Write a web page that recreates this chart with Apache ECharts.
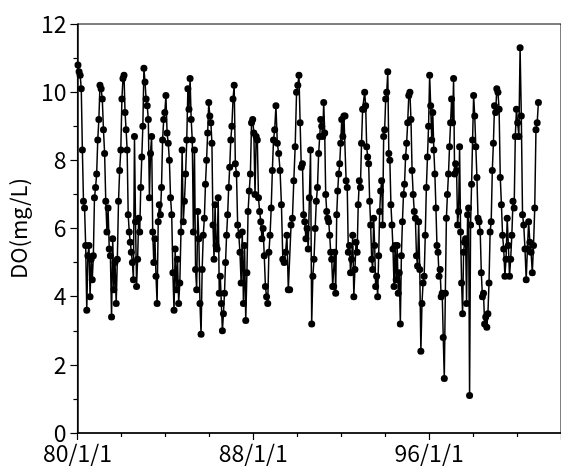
<!DOCTYPE html>
<html>
<head>
<meta charset="utf-8">
<script src="https://cdn.jsdelivr.net/npm/echarts@6/dist/echarts.min.js"></script>
<style>
  html, body { margin: 0; padding: 0; background: #fff; }
  #chart { width: 561px; height: 468px; }
</style>
</head>
<body>
<div id="chart"></div>
<script>
// DO readings per year, in sampling order through the year
const do1980 = [10.8, 10.6, 10.5, 10.1, 8.3, 6.8, 6.6, 5.5, 3.6, 5.2, 5.5, 4.0, 5.1, 4.5, 5.2, 6.9, 7.2, 7.6, 8.6, 9.2]
const do1981 = [10.2, 10.1, 9.8, 8.9, 8.2, 6.8, 5.9, 6.6, 5.4, 5.2, 3.4, 5.7, 4.2, 5.0, 3.8, 5.1, 6.8, 7.7, 8.3]
const do1982 = [9.8, 10.4, 10.5, 9.4, 8.9, 8.3, 6.4, 5.9, 5.6, 5.3, 5.0, 4.5, 8.7, 6.2, 4.3, 5.1, 6.3, 5.9, 7.2, 8.1, 9.0]
const do1983 = [10.7, 10.3, 9.8, 9.6, 9.2, 6.9, 8.2, 8.7, 5.9, 5.0, 5.7, 4.6, 3.8, 6.2, 6.7, 6.4, 7.2, 8.6, 9.2, 9.4]
const do1984 = [9.9, 8.8, 8.5, 8.0, 6.9, 6.4, 4.7, 3.6, 5.4, 4.2, 5.1, 3.8, 4.4, 5.9, 8.3, 6.2, 6.8, 7.6, 8.6]
const do1985 = [10.1, 9.5, 10.4, 9.2, 8.6, 5.9, 8.3, 4.8, 4.2, 6.5, 5.7, 3.8, 2.9, 4.8, 5.8, 6.3, 7.3, 8.0, 8.8, 9.7]
const do1986 = [9.3, 9.1, 8.5, 6.1, 5.1, 6.7, 5.5, 5.4, 6.9, 4.1, 4.6, 3.8, 3.0, 3.5, 4.1, 5.0, 5.8, 6.4, 7.2, 7.8, 8.6]
const do1987 = [9.0, 9.8, 10.2, 7.9, 7.6, 6.1, 5.8, 5.3, 4.4, 5.9, 3.8, 5.5, 3.3, 4.7, 6.5, 7.1, 7.6, 9.1, 9.2]
const do1988 = [8.8, 7.0, 8.7, 8.6, 6.9, 6.5, 6.2, 5.7, 6.0, 5.2, 4.3, 4.0, 3.8, 5.3, 5.8, 6.6, 7.7, 8.6, 8.9]
const do1989 = [9.6, 8.5, 8.2, 7.7, 6.7, 5.1, 5.0, 5.3, 5.8, 4.2, 4.2, 6.1, 6.3, 7.4, 8.4, 10.0]
const do1990 = [10.2, 10.5, 9.1, 7.8, 7.9, 6.4, 6.2, 5.7, 6.0, 5.4, 6.9, 8.3, 3.2, 4.6, 5.1, 6.0, 6.8, 7.2, 8.2]
const do1991 = [8.7, 9.2, 9.0, 8.7, 9.7, 8.8, 7.0, 6.5, 6.3, 6.2, 5.8, 5.3, 5.1, 4.3, 4.3, 5.3, 4.1, 6.4, 7.1, 7.6, 7.9, 8.5]
const do1992 = [9.2, 8.7, 9.3, 9.3, 7.4, 7.2, 5.3, 5.5, 4.7, 5.1, 5.8, 4.0, 4.8, 5.6, 5.3, 6.7, 7.4, 7.2, 8.5, 9.5]
const do1993 = [9.5, 10.0, 9.6, 8.4, 8.1, 7.9, 6.8, 6.1, 5.1, 4.8, 6.3, 5.5, 4.3, 4.6, 4.0, 5.2, 6.5, 7.1, 7.4, 6.1, 8.7, 8.9]
const do1994 = [9.8, 10.0, 10.6, 8.2, 8.0, 6.7, 6.1, 5.4, 4.3, 5.5, 4.5, 5.5, 4.1, 4.7, 3.2, 5.2, 6.2, 7.0, 7.3, 8.1, 8.5]
const do1995 = [9.1, 9.9, 10.0, 9.2, 7.7, 7.0, 6.5, 6.3, 5.2, 4.9, 6.2, 4.8, 2.4, 3.8, 4.4, 4.6, 5.8, 7.2, 8.1, 9.0]
const do1996 = [10.5, 9.6, 8.6, 9.4, 8.3, 7.6, 6.6, 5.5, 5.3, 4.6, 4.8, 4.0, 4.1, 2.8, 1.6, 4.1, 6.3, 7.0, 7.6, 8.4, 9.1]
const do1997 = [9.8, 9.1, 10.4, 7.6, 7.9, 7.7, 6.1, 6.5, 8.4, 5.9, 4.4, 3.5, 5.3, 5.6, 5.7, 3.8, 6.4, 6.6, 1.1, 6.1, 7.3, 8.6]
const do1998 = [9.9, 9.3, 8.4, 7.5, 6.3, 6.2, 5.9, 4.7, 4.0, 4.1, 3.2, 3.4, 3.1, 3.5, 4.4, 5.9, 6.2, 7.7, 8.5, 9.6]
const do1999 = [9.4, 10.1, 10.0, 9.5, 7.5, 6.7, 5.8, 5.4, 4.6, 5.1, 6.3, 5.5, 4.6, 5.1, 5.8, 6.8, 6.6, 8.7, 9.5]
const do2000 = [9.1, 8.7, 11.3, 9.3, 6.4, 6.1, 5.4, 4.5, 5.4, 6.2, 5.6, 5.3, 4.7, 5.5, 6.6, 8.9, 9.1, 9.7]

const years = [1980, 1981, 1982, 1983, 1984, 1985, 1986, 1987, 1988, 1989, 1990,
  1991, 1992, 1993, 1994, 1995, 1996, 1997, 1998, 1999, 2000]
const yearValues = [do1980, do1981, do1982, do1983, do1984, do1985, do1986, do1987, do1988, do1989, do1990,
  do1991, do1992, do1993, do1994, do1995, do1996, do1997, do1998, do1999, do2000]

// spread each year's samples evenly over that year
const points = []
years.forEach((y, k) => {
  const vals = yearValues[k]
  vals.forEach((v, i) => points.push([y + (i + 0.5) / vals.length, v]))
})

const font = '"Noto Sans CJK JP", "Noto Sans", sans-serif'
const chart = echarts.init(document.getElementById('chart'))

chart.setOption({
  animation: false,
  grid: {
    left: 76,
    top: 24,
    right: -10,
    bottom: 35,
    show: true,
    borderColor: '#000',
    borderWidth: 1,
  },
  xAxis: {
    type: 'value',
    min: 1980,
    max: 2002,
    interval: 8,
    axisLine: { lineStyle: { color: '#000', width: 1.5 } },
    axisTick: { length: 7, lineStyle: { color: '#000', width: 1.2 } },
    minorTick: { show: true, splitNumber: 4, length: 4, lineStyle: { color: '#000', width: 1.2 } },
    splitLine: { show: false },
    axisLabel: {
      color: '#000',
      fontSize: 23,
      fontFamily: font,
      margin: 9,
      showMaxLabel: false,
      formatter: (v) => String(v % 100).padStart(2, '0') + '/1/1',
    },
  },
  yAxis: {
    type: 'value',
    min: 0,
    max: 12,
    interval: 2,
    name: 'DO(mg/L)',
    nameLocation: 'middle',
    nameGap: 41,
    nameTextStyle: { color: '#000', fontSize: 22, fontFamily: font },
    axisLine: { show: true, lineStyle: { color: '#000', width: 1.5 } },
    axisTick: { show: true, length: 7, lineStyle: { color: '#000', width: 1.2 } },
    minorTick: { show: true, splitNumber: 2, length: 4, lineStyle: { color: '#000', width: 1.2 } },
    splitLine: { show: false },
    axisLabel: { color: '#000', fontSize: 23, fontFamily: font, margin: 11 },
  },
  series: [
    {
      type: 'line',
      data: points,
      symbol: 'circle',
      symbolSize: 7,
      showAllSymbol: true,
      itemStyle: { color: '#000' },
      lineStyle: { color: '#000', width: 1.5 },
    },
  ],
})

window.addEventListener('resize', () => chart.resize())
</script>
</body>
</html>
